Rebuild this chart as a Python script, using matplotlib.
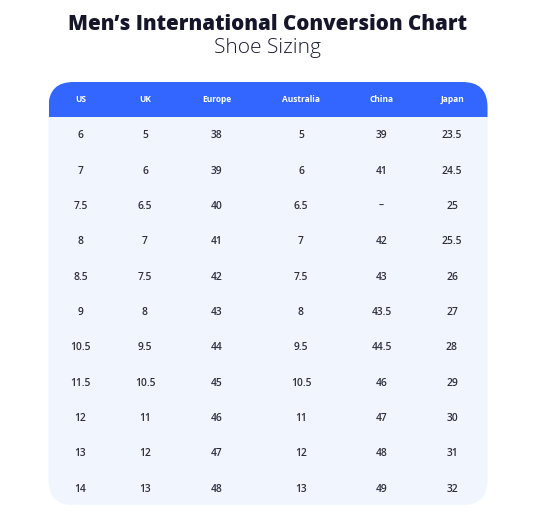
import matplotlib
matplotlib.use("Agg")
import matplotlib.pyplot as plt
from matplotlib.patches import FancyBboxPatch, Rectangle

columns = ["US", "UK", "Europe", "Australia", "China", "Japan"]
us = ["6", "7", "7.5", "8", "8.5", "9", "10.5", "11.5", "12", "13", "14"]
uk = ["5", "6", "6.5", "7", "7.5", "8", "9.5", "10.5", "11", "12", "13"]
europe = ["38", "39", "40", "41", "42", "43", "44", "45", "46", "47", "48"]
australia = ["5", "6", "6.5", "7", "7.5", "8", "9.5", "10.5", "11", "12", "13"]
china = ["39", "41", "\u2013", "42", "43", "43.5", "44.5", "46", "47", "48", "49"]
japan = ["23.5", "24.5", "25", "25.5", "26", "27", "28", "29", "30", "31", "32"]
title = "Men\u2019s International Conversion Chart"
subtitle = "Shoe Sizing"

data = [us, uk, europe, australia, china, japan]

W, H = 533, 522
fig = plt.figure(figsize=(W / 100, H / 100), dpi=100)
ax = fig.add_axes([0, 0, 1, 1])
ax.set_xlim(0, W)
ax.set_ylim(H, 0)
ax.axis("off")

FONT = ["Open Sans", "DejaVu Sans"]

left, right, top, bottom = 48.5, 487.5, 82, 505
header_bottom = 116.5
radius = 25

body = FancyBboxPatch((left, top), right - left, bottom - top,
                      boxstyle=f"round,pad=0,rounding_size={radius}",
                      facecolor="#F0F5FE", edgecolor="none", zorder=1)
ax.add_patch(body)
header = Rectangle((left, top), right - left, header_bottom - top,
                   facecolor="#3366FF", edgecolor="none", zorder=2)
ax.add_patch(header)
header.set_clip_path(body)

col_x = [80.5, 145, 216.5, 301, 381.5, 452]
header_base = 102.3
row_base0 = 138.5
row_dy = 35.3

ax.text(W / 2 + 1, 30, title, ha="center", va="baseline", fontsize=14.8,
        fontweight="heavy", color="#16162A", family=FONT)
ax.text(W / 2 + 1, 53.5, subtitle, ha="center", va="baseline", fontsize=15,
        fontweight="light", color="#1B1B2F", family=FONT)

for x, name in zip(col_x, columns):
    ax.text(x, header_base, name, ha="center", va="baseline", fontsize=6.0,
            fontweight="bold", color="white", family=FONT, zorder=3)

for x, col in zip(col_x, data):
    for i, v in enumerate(col):
        ax.text(x, row_base0 + i * row_dy, v, ha="center", va="baseline",
                fontsize=7.4, fontweight="semibold", color="#2E2E3C",
                family=FONT, zorder=3)

fig.savefig("out.png", dpi=100, facecolor="white")
